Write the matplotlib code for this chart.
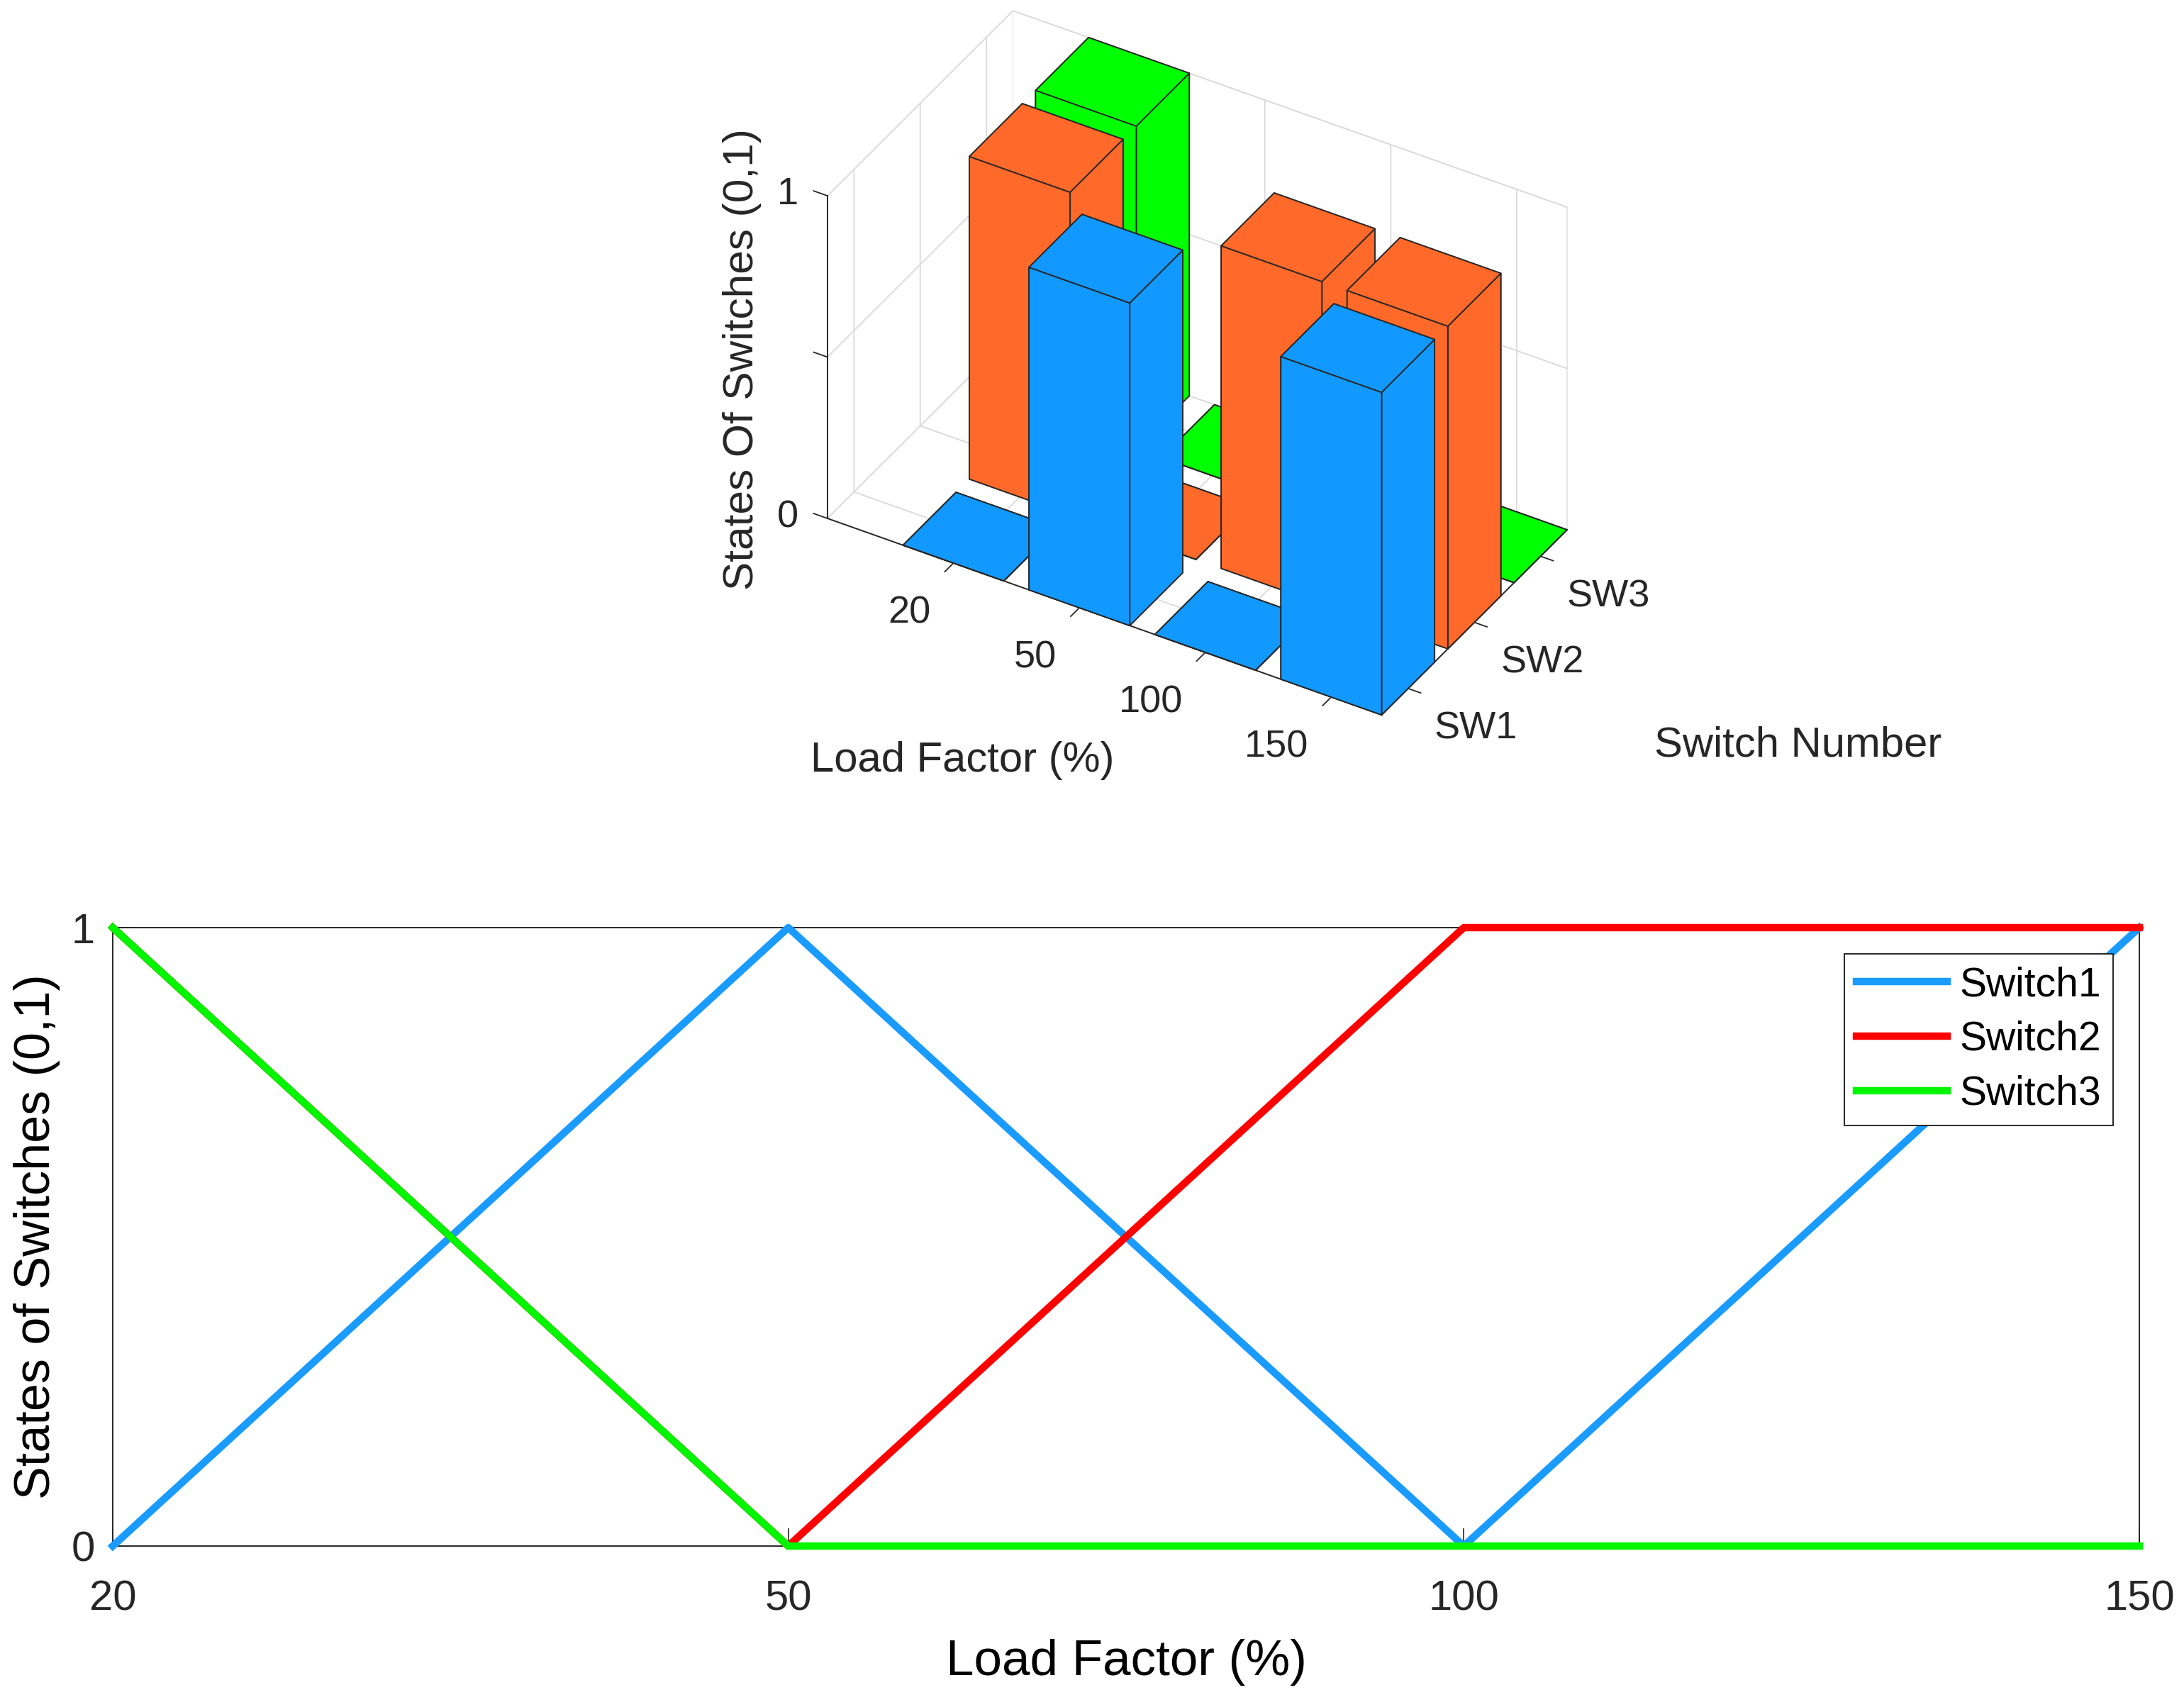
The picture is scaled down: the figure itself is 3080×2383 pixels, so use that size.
import matplotlib
matplotlib.use('Agg')
from matplotlib import pyplot as plt
from mpl_toolkits.mplot3d import proj3d

# data
load_labels = ['20', '50', '100', '150']
switch_labels = ['SW1', 'SW2', 'SW3']
switch1 = [0, 1, 0, 1]
switch2 = [1, 0, 1, 1]
switch3 = [1, 0, 0, 0]

BLUE = '#1199FF'
ORANGE = '#FF692A'
GREEN = '#00FF00'
DARK = '#262626'
LIGHT = '#DCDCDC'
W, H = 3080, 2383

plt.rcParams['font.family'] = ['Liberation Sans', 'DejaVu Sans']
plt.rcParams['axes.edgecolor'] = DARK
plt.rcParams['axes.linewidth'] = 1.4
plt.rcParams['grid.color'] = LIGHT
plt.rcParams['grid.linewidth'] = 1.4
plt.rcParams['text.color'] = DARK
plt.rcParams['xtick.color'] = DARK
plt.rcParams['ytick.color'] = DARK

fig = plt.figure(figsize=(W / 100, H / 100), dpi=100, facecolor='white')

# ---- top 3D bars ----
ax3 = fig.add_axes([0.2, 0.5, 1600 / W, 1600 / H], projection='3d', computed_zorder=False)
ax3.patch.set_alpha(0)
ax3.set_proj_type('ortho')
ax3.view_init(elev=36.5, azim=-59.2)
aspect = (463, 260, 288)
ax3.set_box_aspect(aspect)

rows = [(switch3, 3, GREEN), (switch2, 2, ORANGE), (switch1, 1, BLUE)]
z = 1
for values, sw, colour in rows:
    for i, v in enumerate(values):
        ax3.bar3d(i + 0.6, sw - 0.4, 0, 0.8, 0.8, v, color=colour, shade=False,
                  edgecolor=DARK, linewidth=1.3, zorder=z)
        z += 1

x_ticks = [1, 2, 3, 4]
y_ticks = [1, 2, 3]
z_ticks = [0, 0.5, 1]
ax3.set_xlim(0, 4.4, view_margin=0)
ax3.set_ylim(0.6, 3.4, view_margin=0)
ax3.set_zlim(0, 1, view_margin=0)
ax3.set_xticks(x_ticks)
ax3.set_yticks(y_ticks)
ax3.set_zticks(z_ticks)
# tick labels and tick marks are put by hand further down, matlab places them differently
ax3.set_xticklabels([''] * 4)
ax3.set_yticklabels([''] * 3)
ax3.set_zticklabels([''] * 3)
for axis in (ax3.xaxis, ax3.yaxis, ax3.zaxis):
    axis.set_pane_color((1, 1, 1, 1))
    axis.pane.set_edgecolor(LIGHT)
    axis._axinfo['tick']['inward_factor'] = 0.0
    axis._axinfo['tick']['outward_factor'] = 0.0
ax3.zaxis.set_ticks_position('lower')

for t in x_ticks:
    ax3.plot([t, t], [0.6, 0.47], [0, 0], color=DARK, lw=1.3, zorder=0)
for t in y_ticks:
    ax3.plot([4.4, 4.5], [t, t], [0, 0], color=DARK, lw=1.3, zorder=0)
for t in z_ticks:
    ax3.plot([0, -0.11], [0.6, 0.6], [t, t], color=DARK, lw=1.3, zorder=0)


def screen(x, y, z):
    xs, ys, _ = proj3d.proj_transform(x, y, z, ax3.get_proj())
    return ax3.transData.transform((xs, ys))


# fit the box on its place in the figure (left corner / right corner of the floor)
fig.canvas.draw()
left = screen(0, 0.6, 0)
right = screen(4.4, 3.4, 0)
ax3.set_box_aspect(aspect, zoom=(2210 - 1167) / (right[0] - left[0]))
fig.canvas.draw()
left = screen(0, 0.6, 0)
pos = ax3.get_position()
ax3.set_position([pos.x0 + (1167 - left[0]) / W, pos.y0 + ((H - 731) - left[1]) / H,
                  pos.width, pos.height])
fig.canvas.draw()


def tick_text(point, dx, dy, label, ha):
    px, py = screen(*point)
    fig.text((px + dx) / W, (py + dy) / H, label, fontsize=39, ha=ha, va='center')


for t, label in zip(x_ticks, load_labels):
    tick_text((t, 0.6, 0), -32, -71, label, 'right')
for t, label in zip(y_ticks, switch_labels):
    tick_text((4.4, t, 0), 37, -57, label, 'left')
tick_text((0, 0.6, 0), -41, 2, '0', 'right')
tick_text((0, 0.6, 1), -41, 2, '1', 'right')

fig.text(1357 / W, 1 - 1073 / H, 'Load Factor (%)', fontsize=43, ha='center', va='center')
fig.text(2536 / W, 1 - 1051 / H, 'Switch Number', fontsize=43, ha='center', va='center')
fig.text(1047 / W, 1 - 507 / H, 'States Of Switches (0,1)', fontsize=43.5, rotation=90,
         ha='center', va='center')

# ---- bottom line chart ----
ax = fig.add_axes([159 / W, 1 - 2180 / H, (3017 - 159) / W, (2180 - 1308) / H])
pos_x = range(len(load_labels))
ax.plot(pos_x, switch1, color='#1A9BFF', lw=7.5, clip_on=False, label='Switch1', zorder=3)
ax.plot(pos_x, switch2, color='#FF0000', lw=7.5, clip_on=False, label='Switch2', zorder=3)
ax.plot(pos_x, switch3, color='#00F500', lw=7.5, clip_on=False, label='Switch3', zorder=3)
ax.set_xlim(0, 3)
ax.set_ylim(0, 1)
ax.set_xticks(list(pos_x))
ax.set_xticklabels(load_labels)
ax.set_yticks([0, 1])
ax.tick_params(direction='in', length=18, width=1.2, labelsize=43)
ax.tick_params(axis='x', pad=34)
ax.tick_params(axis='y', pad=18)
ax.set_xlabel('Load Factor (%)', fontsize=51, labelpad=21)
ax.set_ylabel('States of Switches (0,1)', fontsize=50.5, labelpad=11)
leg = ax.legend(loc='upper right', bbox_to_anchor=(2980 / W, 1 - 1345 / H),
                bbox_transform=fig.transFigure, fontsize=41, fancybox=False,
                framealpha=1, edgecolor=DARK, borderaxespad=0, handlelength=2.25,
                labelspacing=0.4, borderpad=0.3, handletextpad=0.3, labelcolor='black')
leg.get_frame().set_linewidth(1.4)
leg.set_zorder(5)

fig.savefig('out.png', dpi=100)
